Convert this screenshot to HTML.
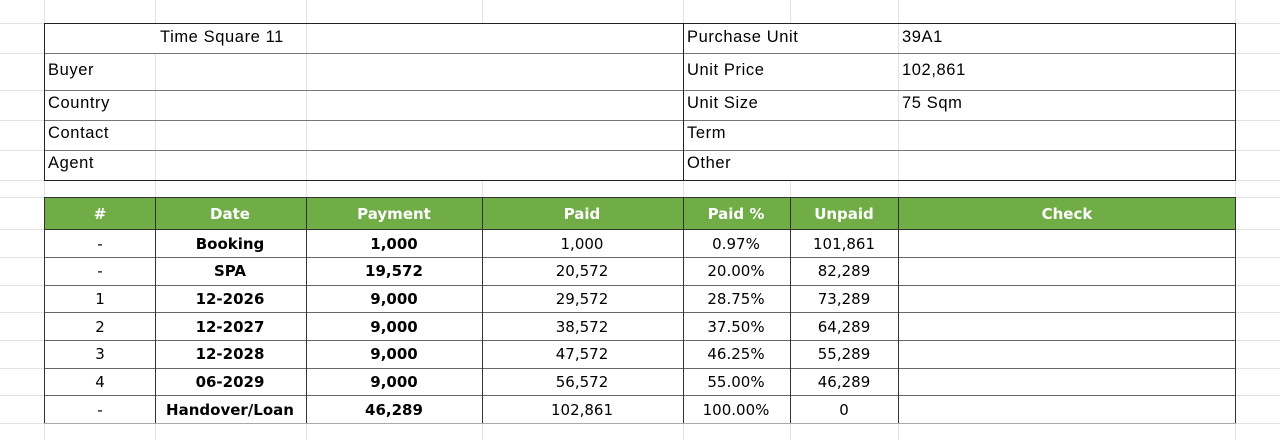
<!DOCTYPE html>
<html><head><meta charset="utf-8"><style>
html,body{margin:0;padding:0;background:#fff;width:1280px;height:440px;overflow:hidden}
svg{display:block}
.t{font-family:"Liberation Sans",Arial,sans-serif;font-size:16.5px;letter-spacing:0.6px;fill:#000}
.h{font-family:"DejaVu Sans",sans-serif;font-size:15px;font-weight:bold;fill:#fff}
.b{font-family:"DejaVu Sans",sans-serif;font-size:15px;fill:#000}
.bb{font-weight:bold}
</style></head><body>
<svg width="1280" height="440" xmlns="http://www.w3.org/2000/svg">
<g stroke="#e2e2e2" stroke-width="1">
<line x1="44.5" y1="0" x2="44.5" y2="440"/><line x1="155.5" y1="0" x2="155.5" y2="440"/>
<line x1="306.5" y1="0" x2="306.5" y2="440"/><line x1="482.5" y1="0" x2="482.5" y2="440"/>
<line x1="683.5" y1="0" x2="683.5" y2="440"/><line x1="790.5" y1="0" x2="790.5" y2="440"/>
<line x1="898.5" y1="0" x2="898.5" y2="440"/><line x1="1235.5" y1="0" x2="1235.5" y2="440"/>
<line x1="0" y1="23.5" x2="1280" y2="23.5"/><line x1="0" y1="53.5" x2="1280" y2="53.5"/>
<line x1="0" y1="90.5" x2="1280" y2="90.5"/><line x1="0" y1="120.5" x2="1280" y2="120.5"/>
<line x1="0" y1="150.5" x2="1280" y2="150.5"/><line x1="0" y1="180.5" x2="1280" y2="180.5"/>
<line x1="0" y1="197.5" x2="1280" y2="197.5"/><line x1="0" y1="229.5" x2="1280" y2="229.5"/>
<line x1="0" y1="257.5" x2="1280" y2="257.5"/><line x1="0" y1="285.5" x2="1280" y2="285.5"/>
<line x1="0" y1="312.5" x2="1280" y2="312.5"/><line x1="0" y1="340.5" x2="1280" y2="340.5"/>
<line x1="0" y1="368.5" x2="1280" y2="368.5"/><line x1="0" y1="395.5" x2="1280" y2="395.5"/>
<line x1="0" y1="423.5" x2="1280" y2="423.5"/>
</g>
<rect x="44.5" y="23.5" width="1191" height="157" fill="#fff" stroke="none"/>
<g stroke="#e2e2e2"><line x1="155.5" y1="53" x2="155.5" y2="180"/><line x1="306.5" y1="23" x2="306.5" y2="180"/><line x1="898.5" y1="23" x2="898.5" y2="180"/></g>
<g stroke="#777"><line x1="44" y1="53.5" x2="1236" y2="53.5"/><line x1="44" y1="90.5" x2="1236" y2="90.5"/><line x1="44" y1="120.5" x2="1236" y2="120.5"/><line x1="44" y1="150.5" x2="1236" y2="150.5"/></g>
<rect x="44.5" y="23.5" width="1191" height="157" fill="none" stroke="#222"/>
<line x1="683.5" y1="23" x2="683.5" y2="180" stroke="#222"/>
<text class="t" x="160" y="42">Time Square 11</text>
<text class="t" x="48" y="75">Buyer</text>
<text class="t" x="48" y="108">Country</text>
<text class="t" x="48" y="138">Contact</text>
<text class="t" x="48" y="168">Agent</text>
<text class="t" x="687" y="42">Purchase Unit</text>
<text class="t" x="687" y="75">Unit Price</text>
<text class="t" x="687" y="108">Unit Size</text>
<text class="t" x="687" y="138">Term</text>
<text class="t" x="687" y="168">Other</text>
<text class="t" x="902" y="42">39A1</text>
<text class="t" x="902" y="75">102,861</text>
<text class="t" x="902" y="108">75 Sqm</text>
<rect x="44.5" y="197.5" width="1191" height="32" fill="#70AD47"/>
<rect x="44.5" y="229.5" width="1191" height="194" fill="#fff"/>
<g stroke="#666"><line x1="44" y1="257.5" x2="1236" y2="257.5"/><line x1="44" y1="285.5" x2="1236" y2="285.5"/><line x1="44" y1="312.5" x2="1236" y2="312.5"/><line x1="44" y1="340.5" x2="1236" y2="340.5"/><line x1="44" y1="368.5" x2="1236" y2="368.5"/><line x1="44" y1="395.5" x2="1236" y2="395.5"/></g>
<g stroke="#333"><line x1="44.5" y1="229.5" x2="1235.5" y2="229.5"/><line x1="44.5" y1="197" x2="44.5" y2="424"/><line x1="155.5" y1="197" x2="155.5" y2="424"/><line x1="306.5" y1="197" x2="306.5" y2="424"/><line x1="482.5" y1="197" x2="482.5" y2="424"/><line x1="683.5" y1="197" x2="683.5" y2="424"/><line x1="790.5" y1="197" x2="790.5" y2="424"/><line x1="898.5" y1="197" x2="898.5" y2="424"/><line x1="1235.5" y1="197" x2="1235.5" y2="424"/><line x1="44.5" y1="197.5" x2="1235.5" y2="197.5"/></g>
<line x1="44" y1="423.5" x2="1236" y2="423.5" stroke="#aaa"/>
<g text-anchor="middle">
<text class="h" x="100" y="219">#</text><text class="h" x="230" y="219">Date</text><text class="h" x="394" y="219">Payment</text><text class="h" x="582" y="219">Paid</text><text class="h" x="736" y="219">Paid %</text><text class="h" x="844" y="219">Unpaid</text><text class="h" x="1067" y="219">Check</text>
<text class="b" x="100" y="249">-</text><text class="b bb" x="230" y="249">Booking</text><text class="b bb" x="394" y="249">1,000</text><text class="b" x="582" y="249">1,000</text><text class="b" x="736" y="249">0.97%</text><text class="b" x="844" y="249">101,861</text>
<text class="b" x="100" y="276">-</text><text class="b bb" x="230" y="276">SPA</text><text class="b bb" x="394" y="276">19,572</text><text class="b" x="582" y="276">20,572</text><text class="b" x="736" y="276">20.00%</text><text class="b" x="844" y="276">82,289</text>
<text class="b" x="100" y="304">1</text><text class="b bb" x="230" y="304">12-2026</text><text class="b bb" x="394" y="304">9,000</text><text class="b" x="582" y="304">29,572</text><text class="b" x="736" y="304">28.75%</text><text class="b" x="844" y="304">73,289</text>
<text class="b" x="100" y="332">2</text><text class="b bb" x="230" y="332">12-2027</text><text class="b bb" x="394" y="332">9,000</text><text class="b" x="582" y="332">38,572</text><text class="b" x="736" y="332">37.50%</text><text class="b" x="844" y="332">64,289</text>
<text class="b" x="100" y="359">3</text><text class="b bb" x="230" y="359">12-2028</text><text class="b bb" x="394" y="359">9,000</text><text class="b" x="582" y="359">47,572</text><text class="b" x="736" y="359">46.25%</text><text class="b" x="844" y="359">55,289</text>
<text class="b" x="100" y="387">4</text><text class="b bb" x="230" y="387">06-2029</text><text class="b bb" x="394" y="387">9,000</text><text class="b" x="582" y="387">56,572</text><text class="b" x="736" y="387">55.00%</text><text class="b" x="844" y="387">46,289</text>
<text class="b" x="100" y="415">-</text><text class="b bb" x="230" y="415">Handover/Loan</text><text class="b bb" x="394" y="415">46,289</text><text class="b" x="582" y="415">102,861</text><text class="b" x="736" y="415">100.00%</text><text class="b" x="844" y="415">0</text>
</g>
</svg>
</body></html>
